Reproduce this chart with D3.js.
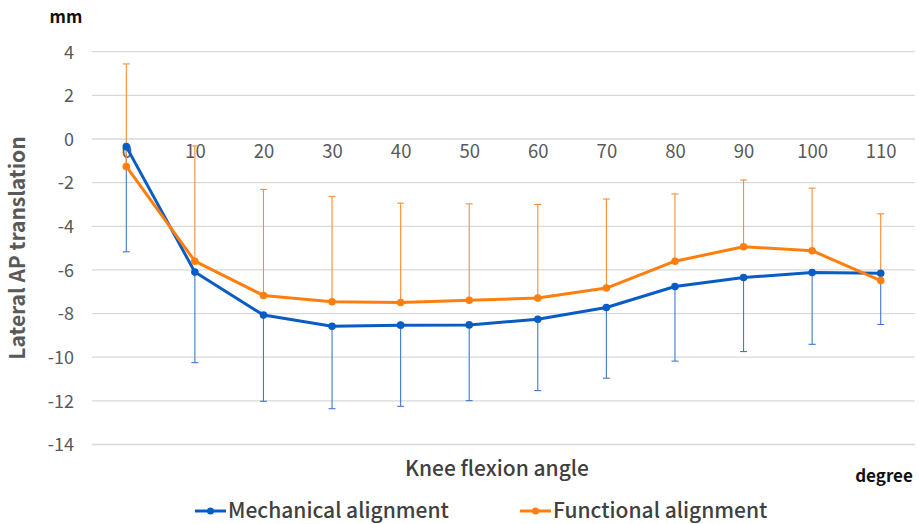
<!DOCTYPE html>
<html><head><meta charset="utf-8">
<script src="https://cdn.jsdelivr.net/npm/d3@7"></script>
<style>body{margin:0;background:#fff}svg{display:block}text{font-family:"Noto Sans CJK JP","Noto Sans",sans-serif}</style>
</head><body><svg id="c" width="919" height="524"></svg>
<script>
const angles = [0,10,20,30,40,50,60,70,80,90,100,110];
const mechanicalMean = [-0.35,-6.10,-8.07,-8.58,-8.53,-8.52,-8.26,-7.72,-6.76,-6.35,-6.12,-6.15];
const mechanicalSD   = [4.82,4.15,3.95,3.78,3.72,3.47,3.27,3.24,3.42,3.39,3.29,2.35];
const functionalMean = [-1.26,-5.60,-7.17,-7.46,-7.49,-7.39,-7.29,-6.83,-5.60,-4.94,-5.12,-6.49];
const functionalSD   = [4.70,5.28,4.86,4.83,4.55,4.42,4.29,4.08,3.08,3.06,2.87,3.06];
const yTicks = [4,2,0,-2,-4,-6,-8,-10,-12,-14];

const svg = d3.select("#c");
const x = d3.scalePoint().domain(angles).range([92,915]).padding(0.5);
const y = d3.scaleLinear().domain([-14,4]).range([444.5,51.7]);
const arial = "'Liberation Sans',Arial,sans-serif";

// gridlines
svg.append("g").selectAll("line").data(yTicks).join("line")
  .attr("x1",92).attr("x2",915).attr("y1",d=>y(d)).attr("y2",d=>y(d))
  .attr("stroke","#d9d9d9").attr("stroke-width",1.3);

// y tick labels
const yAxis = d3.axisLeft(y).tickValues(yTicks).tickSize(0).tickPadding(0).tickFormat(d=>d);
const gy = svg.append("g").attr("transform","translate(74,0)").call(yAxis);
gy.select(".domain").remove();
gy.selectAll("text").attr("fill","#595959").attr("font-size",18).attr("font-family",arial).attr("dy","0.35em");

// x tick labels along zero line
const xAxis = d3.axisBottom(x).tickSize(0).tickPadding(0);
const gx = svg.append("g").attr("transform",`translate(0,${y(0)})`).call(xAxis);
gx.select(".domain").remove();
gx.selectAll("text").attr("fill","#595959").attr("font-size",18.5).attr("font-family",arial).attr("dy","1.05em");

const series = [
  {mean:mechanicalMean, sd:mechanicalSD, dir:-1, color:"#0a5cc5", err:"#3d7ad0"},
  {mean:functionalMean, sd:functionalSD, dir:1, color:"#ff7f0e", err:"#ff8c33"}
];

series.forEach(s=>{
  const g = svg.append("g");
  const pts = angles.map((a,i)=>({a, v:s.mean[i], e:s.mean[i]+s.dir*s.sd[i]}));
  g.selectAll(".eb").data(pts).join("line").attr("x1",d=>x(d.a)).attr("x2",d=>x(d.a))
    .attr("y1",d=>y(d.v)).attr("y2",d=>y(d.e)).attr("stroke",s.err).attr("stroke-width",1.1);
  g.selectAll(".cap").data(pts).join("line").attr("x1",d=>x(d.a)-3.5).attr("x2",d=>x(d.a)+3.5)
    .attr("y1",d=>y(d.e)).attr("y2",d=>y(d.e)).attr("stroke",s.err).attr("stroke-width",1.1);
});
series.forEach(s=>{
  const g = svg.append("g");
  const pts = angles.map((a,i)=>({a, v:s.mean[i]}));
  g.append("path").datum(pts).attr("d",d3.line().x(d=>x(d.a)).y(d=>y(d.v)))
    .attr("fill","none").attr("stroke",s.color).attr("stroke-width",3).attr("stroke-linejoin","round");
  g.selectAll("circle").data(pts).join("circle").attr("cx",d=>x(d.a)).attr("cy",d=>y(d.v)).attr("r",3.8).attr("fill",s.color);
});

// axis titles
svg.append("text").attr("x",66).attr("y",23).attr("text-anchor","middle").attr("font-size",17).attr("font-weight",700).attr("fill","#111").text("mm");
svg.append("text").attr("transform","translate(25,248) rotate(-90)").attr("text-anchor","middle").attr("font-size",21).attr("font-weight",700).attr("font-family",arial).attr("fill","#595959").text("Lateral AP translation");
svg.append("text").attr("x",497).attr("y",476).attr("text-anchor","middle").attr("font-size",21).attr("font-weight",500).attr("fill","#404040").text("Knee flexion angle");
svg.append("text").attr("x",884).attr("y",482).attr("text-anchor","middle").attr("font-size",17).attr("font-weight",700).attr("fill","#111").text("degree");

// legend
const legend = [{name:"Mechanical alignment", color:"#0a5cc5", x:195},{name:"Functional alignment", color:"#ff7f0e", x:520}];
const lg = svg.append("g").selectAll("g").data(legend).join("g").attr("transform",d=>`translate(${d.x},511)`);
lg.append("line").attr("x1",0).attr("x2",31).attr("stroke",d=>d.color).attr("stroke-width",3);
lg.append("circle").attr("cx",15.5).attr("r",3.5).attr("fill",d=>d.color);
lg.append("text").attr("x",33).attr("dy","0.35em").attr("font-size",21).attr("font-weight",500).attr("fill","#404040").text(d=>d.name);
</script></body></html>
